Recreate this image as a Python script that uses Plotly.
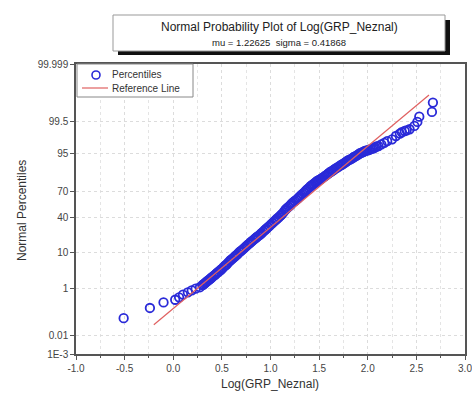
import plotly.graph_objects as go
from statistics import NormalDist

nd = NormalDist()

# Percentile points: x = Log(GRP_Neznal), p = normal percentile (%)
pts_x = [-0.51, -0.24, -0.10, 0.02, 0.06, 0.10, 0.15, 0.19, 0.23, 0.275,
         0.30, 0.31, 0.32, 0.33, 0.34, 0.35, 0.36, 0.37, 0.38, 0.39,
         0.40, 0.415, 0.43, 0.44, 0.45, 0.465, 0.48, 0.49, 0.50, 0.515,
         0.53, 0.54, 0.55, 0.565, 0.58, 0.59, 0.60, 0.615, 0.63, 0.64,
         0.65, 0.665, 0.68, 0.69, 0.70, 0.715, 0.73, 0.745, 0.76, 0.775,
         0.79, 0.80, 0.81, 0.825, 0.84, 0.85, 0.86, 0.875, 0.89, 0.90,
         0.91, 0.925, 0.94, 0.95, 0.96, 0.975, 0.99, 1.005, 1.02, 1.035,
         1.05, 1.06, 1.07, 1.085, 1.10, 1.11, 1.12, 1.135, 1.15, 1.16,
         1.17, 1.185, 1.20, 1.21, 1.22, 1.235, 1.25, 1.265, 1.28, 1.29,
         1.30, 1.315, 1.33, 1.345, 1.36, 1.37, 1.38, 1.395, 1.41, 1.42,
         1.43, 1.445, 1.46, 1.47, 1.48, 1.495, 1.51, 1.52, 1.53, 1.545,
         1.56, 1.575, 1.59, 1.60, 1.61, 1.625, 1.64, 1.65, 1.66, 1.675,
         1.69, 1.705, 1.72, 1.73, 1.74, 1.755, 1.77, 1.78, 1.79, 1.805,
         1.82, 1.835, 1.85, 1.86, 1.87, 1.885, 1.90, 1.91, 1.92, 1.935,
         1.95, 1.96, 1.97, 1.985, 2.00, 2.015, 2.03, 2.045, 2.06, 2.075,
         2.09, 2.11, 2.14, 2.17, 2.20, 2.25, 2.29, 2.33, 2.35, 2.38,
         2.40, 2.43, 2.48, 2.51, 2.53, 2.66, 2.67]
pts_p = [0.066, 0.18, 0.30, 0.38, 0.47, 0.59, 0.71, 0.84, 0.96, 1.07,
         1.25, 1.32, 1.40, 1.50, 1.60, 1.70, 1.80, 1.90, 2.00, 2.12,
         2.25, 2.45, 2.65, 2.82, 3.00, 3.25, 3.50, 3.70, 3.90, 4.30,
         4.70, 4.95, 5.20, 5.75, 6.30, 6.60, 6.90, 7.45, 8.00, 8.35,
         8.70, 9.40, 10.2, 10.6, 11.0, 11.7, 12.5, 13.4, 14.3, 15.1,
         16.0, 16.6, 17.3, 18.2, 19.1, 19.8, 20.5, 21.4, 22.4, 23.2,
         24.0, 25.3, 26.6, 27.4, 28.3, 29.6, 31.0, 32.5, 34.0, 35.4,
         36.9, 38.0, 39.0, 40.4, 41.9, 43.1, 44.3, 46.4, 48.6, 49.8,
         51.0, 52.5, 54.0, 55.2, 56.5, 57.9, 59.3, 60.6, 62.0, 63.1,
         64.3, 65.8, 67.2, 68.6, 70.0, 71.0, 72.0, 73.3, 74.6, 75.4,
         76.2, 77.1, 78.0, 78.8, 79.5, 80.1, 80.8, 81.3, 81.8, 82.6,
         83.4, 84.1, 84.9, 85.4, 86.0, 86.5, 87.0, 87.5, 88.0, 88.5,
         89.0, 89.5, 90.0, 90.3, 90.6, 91.0, 91.5, 91.8, 92.2, 92.5,
         92.8, 93.1, 93.5, 93.7, 93.9, 94.2, 94.5, 94.7, 95.0, 95.1,
         95.3, 95.4, 95.6, 95.7, 95.8, 95.9, 96.1, 96.2, 96.3, 96.5,
         96.7, 96.8, 97.15, 97.42, 97.72, 97.98, 98.41, 98.67, 98.80, 98.91,
         98.97, 99.05, 99.27, 99.48, 99.67, 99.785, 99.913]

mu = 1.22625
sigma = 0.41868
ref_x = [-0.2, 2.63]

x_tick_vals = [-1.0, -0.5, 0.0, 0.5, 1.0, 1.5, 2.0, 2.5, 3.0]
x_tick_text = ["-1.0", "-0.5", "0.0", "0.5", "1.0", "1.5", "2.0", "2.5", "3.0"]
y_tick_pct = [0.001, 0.01, 1, 10, 40, 70, 95, 99.5, 99.999]
y_tick_text = ["1E-3", "0.01", "1", "10", "40", "70", "95", "99.5", "99.999"]

pts_z = [nd.inv_cdf(p / 100.0) for p in pts_p]
ref_z = [(x - mu) / sigma for x in ref_x]
tick_z = [nd.inv_cdf(p / 100.0) for p in y_tick_pct]

FONT = "Liberation Sans, Arial, sans-serif"
BLUE = "#2a2ad8"
RED = "#e06060"

fig = go.Figure()
fig.add_trace(go.Scatter(
    x=pts_x, y=pts_z, mode="markers", name="Percentiles", showlegend=False,
    marker=dict(symbol="circle-open", size=8.5, color=BLUE,
                line=dict(width=1.8, color=BLUE)),
))
fig.add_trace(go.Scatter(
    x=ref_x, y=ref_z, mode="lines", name="Reference Line", showlegend=False,
    line=dict(color=RED, width=1.2),
))

axis_common = dict(
    showline=True, linecolor="#555", linewidth=1.5, mirror=True,
    ticks="outside", ticklen=4, tickcolor="#555", tickwidth=1.2,
    showgrid=True, gridcolor="#dcdcdc", griddash="dot", gridwidth=1,
    zeroline=False, tickfont=dict(family=FONT, size=10, color="#444"),
    automargin=False, ticklabeloverflow="allow",
)

fig.update_xaxes(
    range=[-1, 3], tickmode="array", tickvals=x_tick_vals, ticktext=x_tick_text,
    minor=dict(dtick=0.25, tick0=-1, ticks="outside", ticklen=2.5, tickcolor="#555",
               showgrid=True, gridcolor="#e4e4e4", griddash="dot"),
    **axis_common,
)
fig.update_yaxes(
    range=[tick_z[0], tick_z[-1]], tickmode="array", tickvals=tick_z, ticktext=y_tick_text,
    **axis_common,
)

# pixel -> paper coordinates helpers for decorations
def px(xp):
    return (xp - 76) / 389.0

def py(yp):
    return (354 - yp) / 290.0

def label(text, x, y, size, color="#222", xanchor="center", angle=0):
    fig.add_annotation(text=text, xref="paper", yref="paper",
                       x=px(x), y=py(y), xanchor=xanchor, yanchor="middle",
                       showarrow=False, textangle=angle,
                       font=dict(family=FONT, size=size, color=color))

# title box with shadow
fig.add_shape(type="rect", xref="paper", yref="paper",
              x0=px(118), x1=px(450), y0=py(55), y1=py(20),
              fillcolor="#111", line=dict(width=0))
fig.add_shape(type="rect", xref="paper", yref="paper",
              x0=px(113), x1=px(445), y0=py(51), y1=py(15),
              fillcolor="white", line=dict(color="#999", width=1))
label("Normal Probability Plot of Log(GRP_Neznal)", 279, 27, 12)
label("mu = 1.22625  sigma = 0.41868", 279, 42, 9.5)

# axis titles
label("Log(GRP_Neznal)", 270, 384, 12, "#333")
label("Normal Percentiles", 22, 210, 12, "#333", angle=-90)

# legend box
fig.add_shape(type="rect", xref="paper", yref="paper",
              x0=px(77), x1=px(193), y0=py(97), y1=py(64),
              fillcolor="white", line=dict(color="#888", width=1))
fig.add_shape(type="circle", xref="paper", yref="paper",
              xsizemode="pixel", ysizemode="pixel",
              xanchor=px(96), yanchor=py(75), x0=-4, x1=4, y0=-4, y1=4,
              line=dict(color=BLUE, width=1.6))
fig.add_shape(type="line", xref="paper", yref="paper",
              x0=px(82), x1=px(108), y0=py(88), y1=py(88),
              line=dict(color=RED, width=1.2))
label("Percentiles", 110, 75, 10, "#333", xanchor="left")
label("Reference Line", 110, 88, 10, "#333", xanchor="left")

fig.update_layout(
    width=472, height=397,
    margin=dict(l=76, r=7, t=64, b=43, autoexpand=False),
    paper_bgcolor="white", plot_bgcolor="white",
    font=dict(family=FONT, color="#333"),
    showlegend=False,
)

fig.write_html("out.html", config={"displayModeBar": False},
               post_script="document.body.style.margin='0px';document.body.style.padding='0px';")
